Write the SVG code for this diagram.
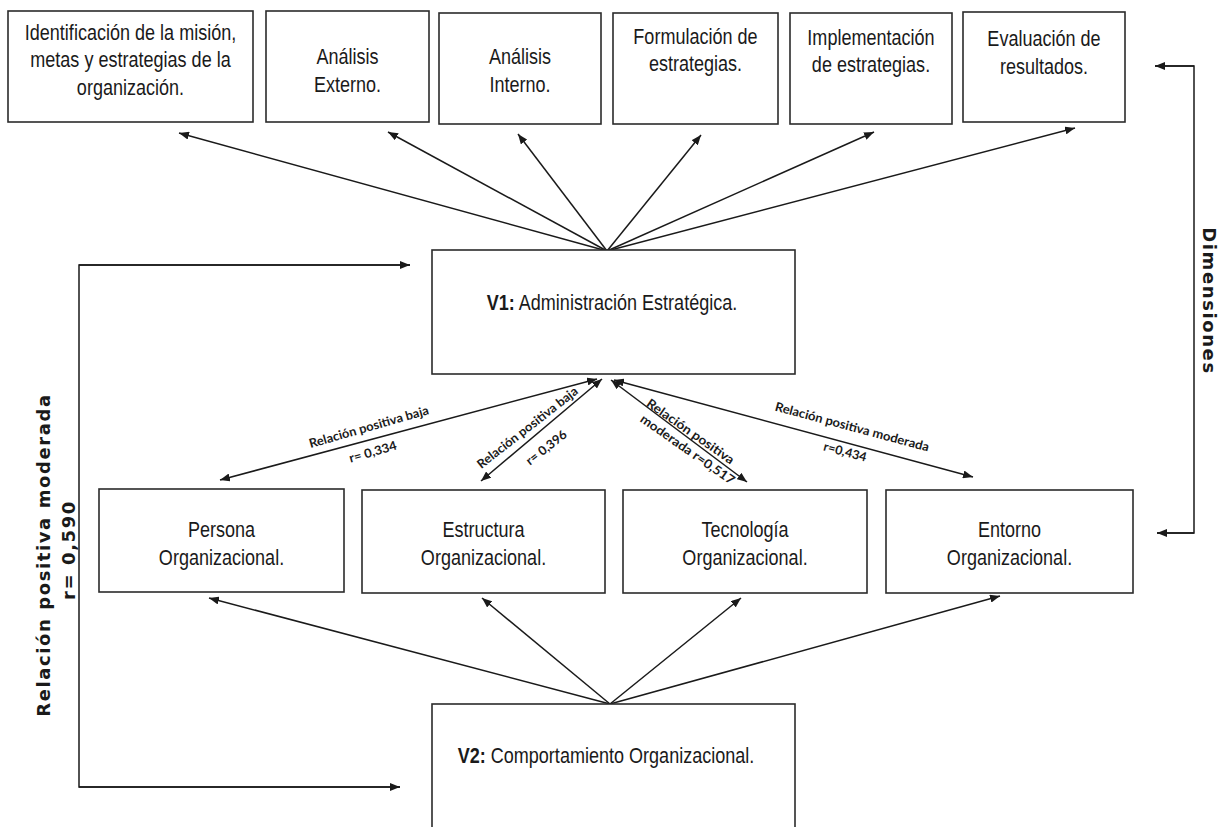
<svg xmlns="http://www.w3.org/2000/svg" width="1227" height="827" viewBox="0 0 1227 827">
<defs>
<style>
.box{fill:#fff;stroke:#2b2b2b;stroke-width:1.6}
.t{font-family:"Liberation Sans",Arial,sans-serif;font-size:22px;fill:#1a1a1a;text-anchor:middle}
.b{font-weight:bold}
.ln{fill:none;stroke:#1a1a1a;stroke-width:1.5}
.arr{marker-end:url(#ah)}
.dbl{marker-start:url(#ah);marker-end:url(#ah)}
.lb{font-family:Lato,"Liberation Sans",sans-serif;font-size:12.5px;font-weight:bold;fill:#1a1a1a;text-anchor:middle}
.side{font-family:"DejaVu Sans",Verdana,sans-serif;font-size:18px;font-weight:bold;fill:#1a1a1a;text-anchor:middle;letter-spacing:1.6px}
</style>
<marker id="ah" viewBox="0 0 10 8" refX="10" refY="4" markerWidth="10" markerHeight="8" markerUnits="userSpaceOnUse" orient="auto-start-reverse">
<path d="M0,0 L10,4 L0,8 z" fill="#1a1a1a"/>
</marker>
</defs>
<rect width="1227" height="827" fill="#fff"/>

<!-- connectors -->
<g id="connectors">
  <!-- V1 to the six strategic stages -->
  <line class="ln arr" x1="607" y1="251" x2="179" y2="133"/>
  <line class="ln arr" x1="607" y1="251" x2="388" y2="132"/>
  <line class="ln arr" x1="607" y1="251" x2="518" y2="134"/>
  <line class="ln arr" x1="607" y1="251" x2="701" y2="135"/>
  <line class="ln arr" x1="607" y1="251" x2="874" y2="132"/>
  <line class="ln arr" x1="607" y1="251" x2="1075" y2="128"/>
  <!-- correlations between V1 and the V2 dimensions -->
  <line class="ln dbl" x1="597" y1="379" x2="220" y2="480"/>
  <line class="ln dbl" x1="602" y1="379" x2="481" y2="481"/>
  <line class="ln dbl" x1="611" y1="380" x2="747" y2="482"/>
  <line class="ln dbl" x1="614" y1="380" x2="973" y2="477"/>
  <!-- V2 to its dimensions -->
  <line class="ln arr" x1="610" y1="704" x2="209" y2="598"/>
  <line class="ln arr" x1="610" y1="704" x2="482" y2="598"/>
  <line class="ln arr" x1="610" y1="704" x2="741" y2="598"/>
  <line class="ln arr" x1="610" y1="704" x2="1000" y2="596"/>
  <!-- left bracket V1 / V2 -->
  <path class="ln" d="M410,265 H79 V787 H400"/>
  <line class="ln arr" x1="79" y1="265" x2="410" y2="265"/>
  <line class="ln arr" x1="79" y1="787" x2="400" y2="787"/>
  <!-- right bracket: dimensions -->
  <path class="ln" d="M1155,66 H1194 V533 H1157"/>
  <line class="ln arr" x1="1194" y1="66" x2="1155" y2="66"/>
  <line class="ln arr" x1="1194" y1="533" x2="1157" y2="533"/>

  <!-- correlation labels -->
  <text class="lb" transform="translate(370 431) rotate(-16)" textLength="124" lengthAdjust="spacingAndGlyphs">Relación positiva baja</text>
  <text class="lb" transform="translate(374 456) rotate(-16)" textLength="49" lengthAdjust="spacingAndGlyphs">r= 0,334</text>
  <text class="lb" transform="translate(530 431) rotate(-38)" textLength="124" lengthAdjust="spacingAndGlyphs">Relación positiva baja</text>
  <text class="lb" transform="translate(549 451) rotate(-38)" textLength="48" lengthAdjust="spacingAndGlyphs">r= 0,396</text>
  <text class="lb" transform="translate(688 435) rotate(35)" textLength="104" lengthAdjust="spacingAndGlyphs">Relación positiva</text>
  <text class="lb" transform="translate(685 453) rotate(35)" textLength="112" lengthAdjust="spacingAndGlyphs">moderada r=0,517</text>
  <text class="lb" transform="translate(851 431) rotate(15)" textLength="159" lengthAdjust="spacingAndGlyphs">Relación positiva moderada</text>
  <text class="lb" transform="translate(844 456) rotate(15)" textLength="44" lengthAdjust="spacingAndGlyphs">r=0,434</text>

  <!-- bracket captions -->
  <text class="side" transform="translate(50 555) rotate(-90)">Relación positiva moderada</text>
  <text class="side" transform="translate(75 550) rotate(-90)">r= 0,590</text>
  <text class="side" transform="translate(1203 301) rotate(90)">Dimensiones</text>
</g>

<!-- strategic management stages -->
<g id="mision">
  <rect class="box" x="8" y="11" width="245" height="111"/>
  <text class="t" transform="translate(130.5 0) scale(0.82 1)"><tspan x="0" y="40">Identificación de la misión,</tspan><tspan x="0" y="67.5">metas y estrategias de la</tspan><tspan x="0" y="95">organización.</tspan></text>
</g>
<g id="externo">
  <rect class="box" x="266" y="11" width="163" height="111"/>
  <text class="t" transform="translate(347.5 0) scale(0.82 1)"><tspan x="0" y="64">Análisis</tspan><tspan x="0" y="92">Externo.</tspan></text>
</g>
<g id="interno">
  <rect class="box" x="439" y="13" width="162" height="111"/>
  <text class="t" transform="translate(520 0) scale(0.82 1)"><tspan x="0" y="64">Análisis</tspan><tspan x="0" y="92">Interno.</tspan></text>
</g>
<g id="formulacion">
  <rect class="box" x="613" y="13" width="165" height="111"/>
  <text class="t" transform="translate(695.5 0) scale(0.82 1)"><tspan x="0" y="44">Formulación de</tspan><tspan x="0" y="71">estrategias.</tspan></text>
</g>
<g id="implementacion">
  <rect class="box" x="790" y="13" width="162" height="111"/>
  <text class="t" transform="translate(871 0) scale(0.82 1)"><tspan x="0" y="45">Implementación</tspan><tspan x="0" y="72">de estrategias.</tspan></text>
</g>
<g id="evaluacion">
  <rect class="box" x="963" y="12" width="162" height="110"/>
  <text class="t" transform="translate(1044 0) scale(0.82 1)"><tspan x="0" y="46">Evaluación de</tspan><tspan x="0" y="74">resultados.</tspan></text>
</g>

<!-- variable 1 -->
<g id="v1">
  <rect class="box" x="432" y="250" width="363" height="124"/>
  <text class="t" transform="translate(612 0) scale(0.82 1)" x="0" y="310"><tspan class="b">V1:</tspan> Administración Estratégica.</text>
</g>

<!-- dimensions of variable 2 -->
<g id="persona">
  <rect class="box" x="99" y="489" width="245" height="103"/>
  <text class="t" transform="translate(221.5 0) scale(0.82 1)"><tspan x="0" y="537">Persona</tspan><tspan x="0" y="565">Organizacional.</tspan></text>
</g>
<g id="estructura">
  <rect class="box" x="362" y="490" width="243" height="103"/>
  <text class="t" transform="translate(483.5 0) scale(0.82 1)"><tspan x="0" y="537">Estructura</tspan><tspan x="0" y="565">Organizacional.</tspan></text>
</g>
<g id="tecnologia">
  <rect class="box" x="623" y="490" width="244" height="103"/>
  <text class="t" transform="translate(745 0) scale(0.82 1)"><tspan x="0" y="537">Tecnología</tspan><tspan x="0" y="565">Organizacional.</tspan></text>
</g>
<g id="entorno">
  <rect class="box" x="886" y="490" width="247" height="103"/>
  <text class="t" transform="translate(1009.5 0) scale(0.82 1)"><tspan x="0" y="537">Entorno</tspan><tspan x="0" y="565">Organizacional.</tspan></text>
</g>

<!-- variable 2 -->
<g id="v2">
  <rect class="box" x="432" y="704" width="363" height="140"/>
  <text class="t" transform="translate(606 0) scale(0.82 1)" x="0" y="763"><tspan class="b">V2:</tspan> Comportamiento Organizacional.</text>
</g>
</svg>
